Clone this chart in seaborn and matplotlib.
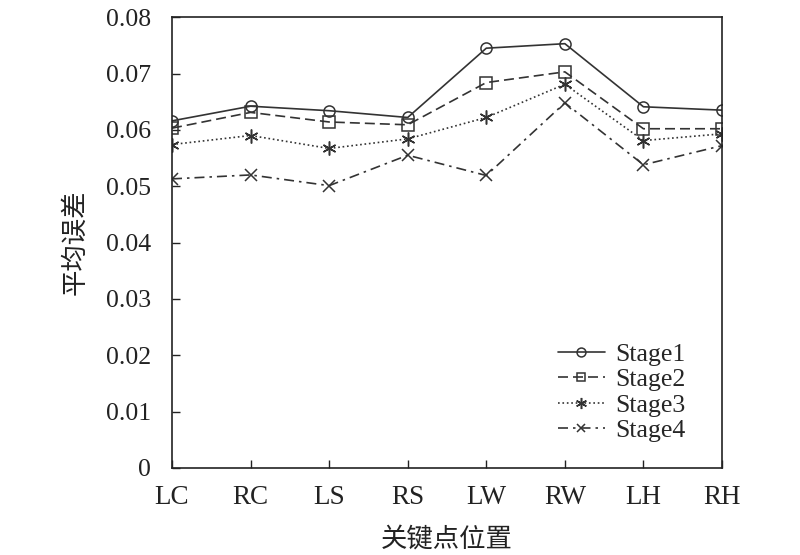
import matplotlib
matplotlib.use('Agg')
import matplotlib.pyplot as plt
import pandas as pd
import seaborn as sns

points = ['LC', 'RC', 'LS', 'RS', 'LW', 'RW', 'LH', 'RH']
stage1 = [0.0616, 0.0642, 0.0634, 0.0622, 0.0745, 0.0753, 0.0641, 0.0635]
stage2 = [0.0603, 0.0631, 0.0614, 0.0609, 0.0684, 0.0703, 0.0602, 0.0602]
stage3 = [0.0574, 0.0590, 0.0567, 0.0584, 0.0622, 0.0681, 0.0581, 0.0593]
stage4 = [0.0513, 0.0520, 0.0501, 0.0555, 0.0519, 0.0648, 0.0538, 0.0572]
y_ticks = [0, 0.01, 0.02, 0.03, 0.04, 0.05, 0.06, 0.07, 0.08]
y_labels = ['0', '0.01', '0.02', '0.03', '0.04', '0.05', '0.06', '0.07', '0.08']

sns.set_style('ticks')
plt.rcParams['font.family'] = ['Liberation Serif', 'Noto Sans CJK SC']

fig = plt.figure(figsize=(8, 5.55), dpi=100)
ax = fig.add_axes([0.215, 0.157, 0.6875, 0.812])

col = '#333333'
styles = [
    ('Stage1', stage1, '-', 'o', 8),
    ('Stage2', stage2, (0, (6, 3)), 's', 8),
    ('Stage3', stage3, ':', (6, 2, 0), 10),
    ('Stage4', stage4, (0, (6, 3, 1.5, 3)), 'x', 8),
]
for name, vals, ls, mk, ms in styles:
    df = pd.DataFrame({'point': points, 'err': vals})
    sns.lineplot(data=df, x='point', y='err', ax=ax, color=col, linestyle=ls,
                 marker=mk, markersize=ms, markerfacecolor='none',
                 markeredgecolor=col, markeredgewidth=1.1, linewidth=1.2,
                 label=name, sort=False)

ax.set_xlim(0, 7)
ax.set_ylim(0, 0.08)
ax.set_yticks(y_ticks)
ax.set_yticklabels(y_labels)
ax.tick_params(direction='in', length=6, width=1, labelsize=18.5, colors='#222222')
ax.tick_params(axis='y', pad=15)
ax.tick_params(axis='x', pad=12, labelsize=19.5)
for s in ax.spines.values():
    s.set_linewidth(1.2)
    s.set_color('#222222')
ax.set_xlabel('关键点位置', fontsize=19, family=['Noto Sans CJK SC'], labelpad=12, color='#222222')
ax.set_ylabel('平均误差', fontsize=19, family=['Noto Sans CJK SC'], labelpad=13, color='#222222')

leg = ax.legend(loc='lower right', bbox_to_anchor=(0.975, 0.005), frameon=False,
                fontsize=18.5, handlelength=1.8, labelspacing=0.1, handletextpad=0.4,
                markerscale=0.8)

fig.savefig('out.png', dpi=100)
